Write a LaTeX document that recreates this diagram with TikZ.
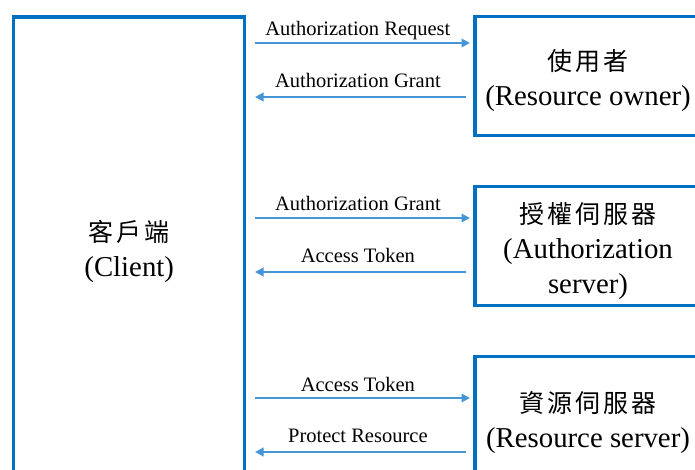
\documentclass[tikz,border=0pt]{standalone}
\usepackage{fontspec}
\setmainfont{Liberation Serif}
\newfontfamily\cjk{Noto Sans CJK TC}
\usetikzlibrary{arrows.meta}
\definecolor{boxblue}{RGB}{0,112,192}
\definecolor{arrowblue}{RGB}{70,150,215}
\newcommand{\cjsp}{\hspace{3pt}}
\newcommand{\cjkline}[1]{{\cjk\fontsize{25}{35}\selectfont #1}}
\begin{document}
\begin{tikzpicture}[x=1pt,y=-1pt,
  box/.style={draw=boxblue, line width=3.5pt, outer sep=0pt, inner sep=0pt, anchor=north west},
  boxtext/.style={align=center, font=\fontsize{28.8}{35}\selectfont, inner sep=0pt},
  arr/.style={draw=arrowblue, line width=2pt, -{Triangle[length=8.5pt,width=8.5pt]}},
  lbl/.style={font=\fontsize{20.5}{24}\selectfont, anchor=base, inner sep=0pt, xshift=-2pt}]
\clip (0,0) rectangle (695,470);
\fill[white] (0,0) rectangle (695,470);
\node[box, minimum width=231pt, minimum height=464pt] (client) at (13.7,17) {};
\node[box, minimum width=226pt, minimum height=118.6pt] (owner) at (475,16.7) {};
\node[box, minimum width=226pt, minimum height=118.6pt] (authsrv) at (475,186.7) {};
\node[box, minimum width=226pt, minimum height=126.6pt] (ressrv) at (475,356.7) {};

\node[boxtext, yshift=-2pt] (clienttext) at (client.center) {\cjkline{客\cjsp 戶\cjsp 端}\\(Client)};
\node[boxtext, yshift=-5pt] (ownertext) at (owner.center) {\cjkline{使\cjsp 用\cjsp 者}\\(Resource owner)};
\node[boxtext, yshift=-5pt] (authtext) at (authsrv.center) {\cjkline{授\cjsp 權\cjsp 伺\cjsp 服\cjsp 器}\\(Authorization\\server)};
\node[boxtext, yshift=-3pt] (restext) at (ressrv.center) {\cjkline{資\cjsp 源\cjsp 伺\cjsp 服\cjsp 器}\\(Resource server)};

\coordinate (y1) at (0,43);
\coordinate (y2) at (0,97);
\coordinate (y3) at (0,218);
\coordinate (y4) at (0,272);
\coordinate (y5) at (0,398);
\coordinate (y6) at (0,452);

\draw[arr, shorten <=10.3pt, shorten >=5pt] (client.east |- y1) -- node[lbl, yshift=7pt] (l1) {Authorization Request} (owner.west |- y1);
\draw[arr, shorten <=9pt, shorten >=10.3pt] (owner.west |- y2) -- node[lbl, yshift=9.5pt] (l2) {Authorization Grant} (client.east |- y2);
\draw[arr, shorten <=10.3pt, shorten >=5pt] (client.east |- y3) -- node[lbl, yshift=7pt] (l3) {Authorization Grant} (authsrv.west |- y3);
\draw[arr, shorten <=9pt, shorten >=10.3pt] (authsrv.west |- y4) -- node[lbl, yshift=9.5pt] (l4) {Access Token} (client.east |- y4);
\draw[arr, shorten <=10.3pt, shorten >=5pt] (client.east |- y5) -- node[lbl, yshift=7pt] (l5) {Access Token} (ressrv.west |- y5);
\draw[arr, shorten <=9pt, shorten >=10.3pt] (ressrv.west |- y6) -- node[lbl, yshift=9.5pt] (l6) {Protect Resource} (client.east |- y6);
\end{tikzpicture}
\end{document}
